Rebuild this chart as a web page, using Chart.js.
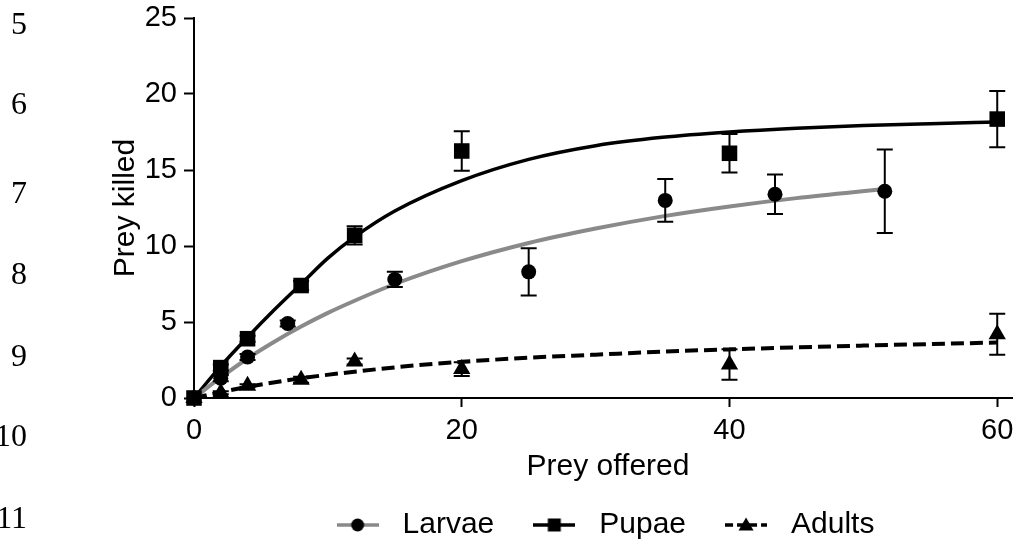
<!DOCTYPE html>
<html>
<head>
<meta charset="utf-8">
<title>Prey killed</title>
<script src="https://cdn.jsdelivr.net/npm/chart.js@4.4.0/dist/chart.umd.min.js"></script>
<style>
  body { margin: 0; background: #fff; }
  #quadro { position: relative; width: 1013px; height: 546px; overflow: hidden; }
  #grafico { position: absolute; left: 0; top: 0; }
  .linha {
    position: absolute; right: 986px; width: 60px; text-align: right;
    font-family: "Liberation Serif", "Times New Roman", serif;
    font-size: 32px; line-height: 32px; color: #000;
  }
</style>
</head>
<body>
<div id="quadro">
  <!-- o eixo x continua alem da borda da figura original, por isso o canvas e mais largo -->
  <canvas id="grafico" width="1033" height="546"></canvas>
</div>
<script>
// numeros de linha do manuscrito
const lineNumbers = ['5', '6', '7', '8', '9', '10', '11'];

const xTicks = [0, 20, 40, 60];

// pontos medidos (media +- erro)
const larvaeX = [0, 2, 4, 7, 15, 25, 35.2, 43.4, 51.6];
const larvaeY = [0, 1.3, 2.7, 4.9, 7.8, 8.3, 13.0, 13.4, 13.6];
const larvaeErr = [0, 0.2, 0.2, 0.2, 0.5, 1.55, 1.4, 1.3, 2.75];

const pupaeX = [0, 2, 4, 8, 12, 20, 40, 60];
const pupaeY = [0, 2.0, 3.9, 7.4, 10.7, 16.25, 16.1, 18.35];
const pupaeErr = [0, 0.2, 0.2, 0.3, 0.6, 1.3, 1.27, 1.85];

const adultsX = [0, 2, 4, 8, 12, 20, 40, 60];
const adultsY = [0, 0.35, 0.8, 1.2, 2.4, 1.9, 2.2, 4.2];
const adultsErr = [0, 0.1, 0.1, 0.2, 0.2, 0.45, 1.0, 1.35];

// curvas ajustadas
const larvaeCurveX = [0, 2, 4, 6, 8, 10, 12, 15, 20, 25, 30, 35, 40, 45, 51.6];
const larvaeCurveY = [0, 1.35, 2.6, 3.7, 4.7, 5.6, 6.4, 7.5, 9.0, 10.2, 11.15, 11.95, 12.6, 13.15, 13.75];

const pupaeCurveX = [0, 2, 4, 6, 8, 10, 12, 15, 20, 25, 30, 35, 40, 45, 50, 55, 60];
const pupaeCurveY = [0, 2.1, 4.0, 5.8, 7.5, 9.2, 10.6, 12.3, 14.3, 15.7, 16.6, 17.15, 17.5, 17.75, 17.93, 18.05, 18.15];

const adultsCurveX = [0, 2, 4, 8, 12, 16, 20, 25, 30, 35, 40, 45, 50, 55, 60];
const adultsCurveY = [0, 0.38, 0.73, 1.3, 1.73, 2.1, 2.38, 2.65, 2.85, 3.05, 3.2, 3.33, 3.45, 3.55, 3.65];

// posicao vertical dos numeros de linha (centro do texto)
const centrosLinhas = [23, 103, 192, 273, 355, 435, 517];
const quadro = document.getElementById('quadro');
lineNumbers.forEach((n, i) => {
  const d = document.createElement('div');
  d.className = 'linha';
  d.style.top = (centrosLinhas[i] - 16) + 'px';
  d.textContent = n;
  quadro.appendChild(d);
});

const cinza = '#8a8a8a';
const fonte = "'Liberation Sans', Arial, sans-serif";
Chart.defaults.font.family = fonte;
Chart.defaults.color = '#000';

const pares = (xs, ys) => xs.map((x, i) => ({ x: x, y: ys[i] }));

// icone da legenda: linha + marcador
function criarIcone(corLinha, forma, tracejado) {
  const c = document.createElement('canvas');
  c.width = 42;
  c.height = 20;
  const g = c.getContext('2d');
  g.strokeStyle = corLinha;
  g.lineWidth = 3.5;
  if (tracejado) g.setLineDash([8, 4]);
  g.beginPath();
  g.moveTo(0, 10);
  g.lineTo(42, 10);
  g.stroke();
  g.fillStyle = '#000';
  g.beginPath();
  if (forma === 'circle') {
    g.arc(21, 10, 6.5, 0, Math.PI * 2);
  } else if (forma === 'rect') {
    g.rect(14.5, 3.5, 13, 13);
  } else {
    g.moveTo(21, 2.5);
    g.lineTo(28.5, 15.5);
    g.lineTo(13.5, 15.5);
    g.closePath();
  }
  g.fill();
  return c;
}

const iconeLarvae = criarIcone(cinza, 'circle', false);
const iconePupae = criarIcone('#000', 'rect', false);
const iconeAdults = criarIcone('#000', 'triangle', true);

// barras de erro
const seriesErro = [
  { x: larvaeX, y: larvaeY, e: larvaeErr },
  { x: pupaeX, y: pupaeY, e: pupaeErr },
  { x: adultsX, y: adultsY, e: adultsErr }
];

const barrasErro = {
  id: 'barrasErro',
  afterDatasetsDraw(chart) {
    const ctx = chart.ctx;
    const sx = chart.scales.x, sy = chart.scales.y;
    ctx.save();
    ctx.strokeStyle = '#000';
    ctx.lineWidth = 2;
    seriesErro.forEach(s => {
      s.x.forEach((xv, i) => {
        if (!s.e[i]) return;
        const px = sx.getPixelForValue(xv);
        const top = sy.getPixelForValue(s.y[i] + s.e[i]);
        const bot = sy.getPixelForValue(s.y[i] - s.e[i]);
        ctx.beginPath();
        ctx.moveTo(px, top); ctx.lineTo(px, bot);
        ctx.moveTo(px - 8, top); ctx.lineTo(px + 8, top);
        ctx.moveTo(px - 8, bot); ctx.lineTo(px + 8, bot);
        ctx.stroke();
      });
    });
    ctx.restore();
  }
};

// legenda centrada sob a area do grafico, um pouco mais abaixo
const moverLegenda = {
  id: 'moverLegenda',
  afterLayout(chart) {
    const lg = chart.legend, area = chart.chartArea;
    lg.left = area.left;
    lg.right = area.right - 14;
    lg.width = lg.right - lg.left;
    lg.top += 4;
    lg.bottom += 4;
  }
};

var ctx = document.getElementById('grafico').getContext('2d');

var grafico = new Chart(ctx, {
  data: {
    datasets: [
      {
        type: 'scatter', label: 'Larvae', data: pares(larvaeX, larvaeY),
        pointStyle: 'circle', pointRadius: 7.5, pointHoverRadius: 7.5,
        backgroundColor: '#000', borderWidth: 0, clip: false, order: 0
      },
      {
        type: 'scatter', label: 'Pupae', data: pares(pupaeX, pupaeY),
        pointStyle: 'rect', pointRadius: 11, pointHoverRadius: 11,
        backgroundColor: '#000', borderWidth: 0, clip: false, order: 0
      },
      {
        type: 'scatter', label: 'Adults', data: pares(adultsX, adultsY),
        pointStyle: 'triangle', pointRadius: 10, pointHoverRadius: 10,
        backgroundColor: '#000', borderWidth: 0, clip: false, order: 0
      },
      {
        type: 'line', label: 'Larvae fit', data: pares(larvaeCurveX, larvaeCurveY),
        borderColor: cinza, borderWidth: 4, pointRadius: 0, fill: false,
        cubicInterpolationMode: 'monotone', order: 1
      },
      {
        type: 'line', label: 'Pupae fit', data: pares(pupaeCurveX, pupaeCurveY),
        borderColor: '#000', borderWidth: 3.5, pointRadius: 0, fill: false,
        cubicInterpolationMode: 'monotone', order: 1
      },
      {
        type: 'line', label: 'Adults fit', data: pares(adultsCurveX, adultsCurveY),
        borderColor: '#000', borderWidth: 4, borderDash: [13, 6], pointRadius: 0, fill: false,
        cubicInterpolationMode: 'monotone', order: 1
      }
    ]
  },
  options: {
    responsive: false,
    animation: false,
    layout: { padding: { left: 96, right: 0, top: 18, bottom: 0 } },
    scales: {
      x: {
        type: 'linear',
        min: 0,
        max: 61.85,
        afterBuildTicks: (scale) => { scale.ticks = xTicks.map(v => ({ value: v })); },
        afterFit: (scale) => { scale.height = 78; },
        grid: { drawOnChartArea: false, drawTicks: true, tickLength: 9, tickColor: '#000', tickWidth: 2 },
        border: { color: '#000', width: 2 },
        ticks: { font: { size: 29 }, padding: 7, color: '#000' },
        title: { display: true, text: 'Prey offered', font: { size: 30, lineHeight: 1 }, padding: { top: 0, bottom: -6 }, color: '#000' }
      },
      y: {
        type: 'linear',
        min: 0,
        max: 25,
        afterFit: (scale) => {
          scale.width = 98;
          scale.paddingTop = 0;
          scale.paddingBottom = 0;
        },
        grid: { drawOnChartArea: false, drawTicks: true, tickLength: 10, tickColor: '#000', tickWidth: 2 },
        border: { color: '#000', width: 2 },
        ticks: { stepSize: 5, font: { size: 29 }, padding: 7, color: '#000' },
        title: { display: true, text: 'Prey killed', font: { size: 30, lineHeight: 1 }, padding: { top: 15, bottom: 0 }, color: '#000' }
      }
    },
    plugins: {
      tooltip: { enabled: false },
      legend: {
        position: 'bottom',
        labels: {
          usePointStyle: true,
          pointStyleWidth: 60,
          padding: 30,
          color: '#000',
          font: { size: 30 },
          generateLabels: () => [
            { text: 'Larvae', pointStyle: iconeLarvae, fillStyle: '#000', strokeStyle: '#000', lineWidth: 0, hidden: false, datasetIndex: 0 },
            { text: 'Pupae', pointStyle: iconePupae, fillStyle: '#000', strokeStyle: '#000', lineWidth: 0, hidden: false, datasetIndex: 1 },
            { text: 'Adults', pointStyle: iconeAdults, fillStyle: '#000', strokeStyle: '#000', lineWidth: 0, hidden: false, datasetIndex: 2 }
          ]
        }
      }
    }
  },
  plugins: [barrasErro, moverLegenda]
});
</script>
</body>
</html>
